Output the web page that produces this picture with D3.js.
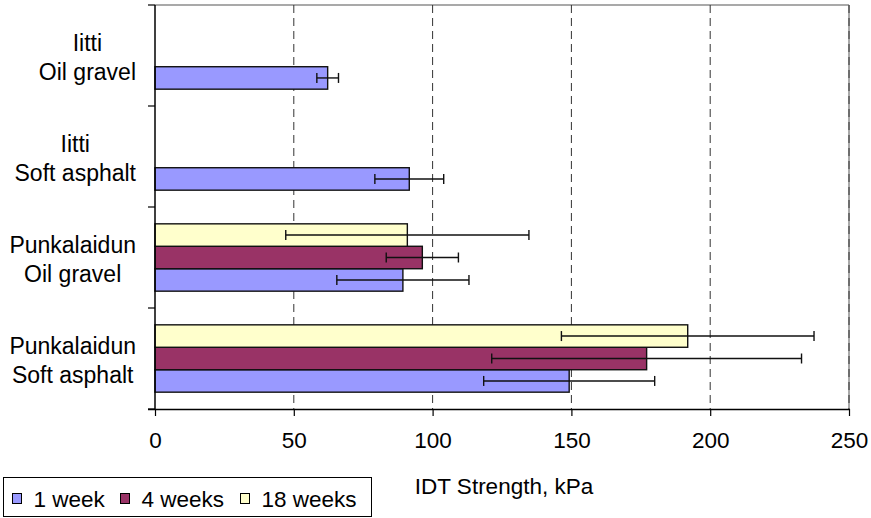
<!DOCTYPE html>
<html>
<head>
<meta charset="utf-8">
<script src="https://cdn.jsdelivr.net/npm/d3@7"></script>
<style>
  html, body { margin: 0; padding: 0; background: #fff; }
  svg { display: block; }
  text { font-family: "Liberation Sans", Arial, Helvetica, sans-serif; fill: #000; }
</style>
</head>
<body>
<svg id="chart" width="871" height="518"></svg>
<script>
// ---- data ----
const categories = [
  ["Iitti", "Oil gravel"],
  ["Iitti", "Soft asphalt"],
  ["Punkalaidun", "Oil gravel"],
  ["Punkalaidun", "Soft asphalt"]
];
const seriesNames = ["1 week", "4 weeks", "18 weeks"];
const week1  = [62.2, 91.6, 89.3, 149.2];
const week4  = [null, null, 96.3, 177.1];
const week18 = [null, null, 90.9, 191.9];
const err1   = [3.9, 12.4, 23.8, 30.8];
const err4   = [null, null, 13.0, 55.8];
const err18  = [null, null, 43.8, 45.5];
const xTicks = [0, 50, 100, 150, 200, 250];
const xTitle = "IDT Strength, kPa";
const colors = ["#9999FF", "#993366", "#FFFFCC"];

const values = [week1, week4, week18];
const errors = [err1, err4, err18];

// ---- layout ----
const svg = d3.select("#chart");
const pLeft = 155, pRight = 849, pTop = 5, pBottom = 409;

const x = d3.scaleLinear().domain([0, 250]).range([pLeft, pRight]);
const catKeys = categories.map((c, i) => i);
const y = d3.scaleBand().domain(catKeys).range([pTop, pBottom]).padding(0);
// within a category: 18 weeks on top, 1 week at bottom
const inner = d3.scaleBand().domain([2, 1, 0]).range([0, y.bandwidth()])
  .paddingInner(0).paddingOuter(0.75);

// plot area border (gray top/right)
svg.append("line").attr("x1", pLeft).attr("x2", pRight).attr("y1", pTop).attr("y2", pTop)
  .attr("stroke", "#8c8c8c").attr("stroke-width", 1.5);
svg.append("line").attr("x1", pRight).attr("x2", pRight).attr("y1", pTop).attr("y2", pBottom)
  .attr("stroke", "#8c8c8c").attr("stroke-width", 1.5);

// dashed gridlines
svg.append("g").selectAll("line").data(xTicks.filter(d => d > 0)).join("line")
  .attr("x1", d => x(d)).attr("x2", d => x(d))
  .attr("y1", pTop).attr("y2", pBottom)
  .attr("stroke", "#333").attr("stroke-width", 1)
  .attr("stroke-dasharray", "8,5");

// bars
const barData = [];
values.forEach((arr, s) => arr.forEach((v, c) => {
  if (v != null) barData.push({s, c, v, e: errors[s][c]});
}));

svg.append("g").selectAll("rect").data(barData).join("rect")
  .attr("x", x(0))
  .attr("y", d => y(d.c) + inner(d.s))
  .attr("width", d => x(d.v) - x(0))
  .attr("height", inner.bandwidth())
  .attr("fill", d => colors[d.s])
  .attr("stroke", "#111").attr("stroke-width", 1.4);

// error bars
const eg = svg.append("g").attr("stroke", "#111").attr("stroke-width", 1.4);
barData.forEach(d => {
  const cy = y(d.c) + inner(d.s) + inner.bandwidth() / 2;
  const x1 = x(d.v - d.e), x2 = x(d.v + d.e);
  eg.append("line").attr("x1", x1).attr("x2", x2).attr("y1", cy).attr("y2", cy);
  eg.append("line").attr("x1", x1).attr("x2", x1).attr("y1", cy - 5).attr("y2", cy + 5);
  eg.append("line").attr("x1", x2).attr("x2", x2).attr("y1", cy - 5).attr("y2", cy + 5);
});

// x axis
const xAxis = d3.axisBottom(x).tickValues(xTicks).tickSize(7).tickSizeOuter(0).tickPadding(16);
const gx = svg.append("g").attr("transform", `translate(0,${pBottom})`).call(xAxis);
gx.attr("font-family", null).attr("font-size", null);
gx.select(".domain").attr("stroke", "#000").attr("stroke-width", 1.5)
  .attr("d", `M${pLeft - 7},0.5H${pRight}`);
gx.selectAll(".tick line").attr("stroke", "#000").attr("stroke-width", 1.2);
gx.selectAll(".tick text").style("font-size", "22.5px").attr("fill", "#000");

// y axis line & ticks at category boundaries
const boundaries = catKeys.map(c => y(c)).concat([pBottom]);
svg.append("line").attr("x1", pLeft).attr("x2", pLeft).attr("y1", pTop).attr("y2", pBottom)
  .attr("stroke", "#000").attr("stroke-width", 1.5);
svg.append("g").selectAll("line").data(boundaries).join("line")
  .attr("x1", pLeft - 7).attr("x2", pLeft).attr("y1", d => d).attr("y2", d => d)
  .attr("stroke", "#000").attr("stroke-width", 1.2);

// category labels (multi-line, centred lines, block right edge at 136)
categories.forEach((lines, c) => {
  const cy = y(c) + y.bandwidth() / 2;
  const g = svg.append("g");
  const texts = lines.map((t, i) => g.append("text")
    .attr("y", cy - 5 + i * 29)
    .attr("text-anchor", "middle")
    .style("font-size", "23px")
    .text(t));
  const w = d3.max(texts, t => t.node().getComputedTextLength());
  texts.forEach(t => t.attr("x", 136 - w / 2));
});

// x axis title
svg.append("text").attr("x", (pLeft + pRight) / 2 + 2).attr("y", 494)
  .attr("text-anchor", "middle").style("font-size", "22.5px").text(xTitle);

// legend
const lg = svg.append("g");
lg.append("rect").attr("x", 3.5).attr("y", 477.5).attr("width", 368).attr("height", 39)
  .attr("fill", "#fff").attr("stroke", "#000").attr("stroke-width", 1);
const legX = [12.5, 120.5, 240.5];
seriesNames.forEach((n, i) => {
  lg.append("rect").attr("x", legX[i]).attr("y", 493.5).attr("width", 9).attr("height", 10)
    .attr("fill", colors[i]).attr("stroke", "#000").attr("stroke-width", 1);
  lg.append("text").attr("x", legX[i] + 21).attr("y", 506.5)
    .style("font-size", "22.5px").text(n);
});
</script>
</body>
</html>
